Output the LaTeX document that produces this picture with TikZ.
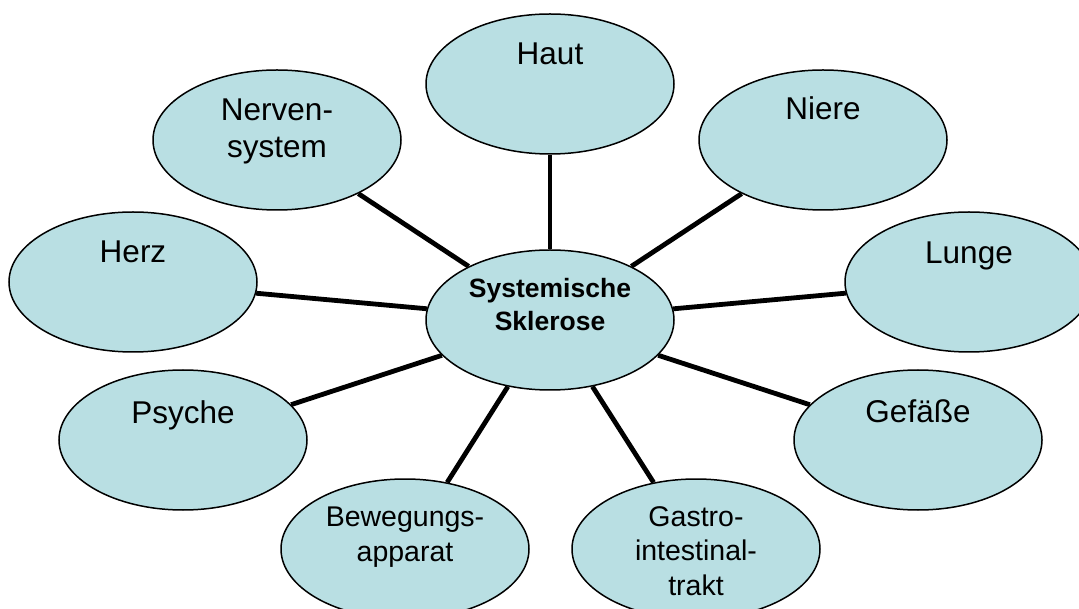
\documentclass[tikz,border=0pt]{standalone}
\usepackage{fontspec}
\setmainfont{Liberation Sans}
\usetikzlibrary{shapes.geometric}
\definecolor{fillc}{RGB}{185,223,227}
\begin{document}
\begin{tikzpicture}[x=1pt,y=-1pt,
  organ/.style={ellipse, draw=black, line width=1.5pt, fill=fillc, minimum width=248pt, minimum height=140pt, inner sep=0pt},
  conn/.style={line width=4.8pt},
  lbl/.style={font=\fontsize{31.5}{37.8}\selectfont, align=center, anchor=base, inner sep=0pt},
  lbls/.style={font=\fontsize{28.5}{34.2}\selectfont, align=center, anchor=base, inner sep=0pt},
  lblc/.style={font=\bfseries\fontsize{26.5}{33}\selectfont, align=center, anchor=base, inner sep=0pt}]
\useasboundingbox (0,0) rectangle (1079,609);
\clip (0,0) rectangle (1079,609);

\node[organ] (c) at (550,320) {};
\node[organ] (haut) at (550,84) {};
\node[organ] (nerv) at (277,140) {};
\node[organ] (niere) at (823,140) {};
\node[organ] (herz) at (133,282) {};
\node[organ] (lunge) at (969,282) {};
\node[organ] (psyche) at (183,440) {};
\node[organ] (gef) at (918,440) {};
\node[organ] (bew) at (405,549) {};
\node[organ] (gastro) at (696,549) {};

\foreach \n in {haut,nerv,niere,herz,lunge,psyche,gef,bew,gastro}
  \draw[conn] (c) -- (\n);

\node[lblc] (tc) at (550,331) {Systemische\\Sklerose};
\node[lbl] (thaut) at (550,65) {Haut};
\node[lbl] (tnerv) at (277,158) {Nerven-\\system};
\node[lbl] (tniere) at (823,120) {Niere};
\node[lbl] (therz) at (133,263) {Herz};
\node[lbl] (tlunge) at (969,264) {Lunge};
\node[lbl] (tpsyche) at (183,424) {Psyche};
\node[lbl] (tgef) at (918,423) {Gefäße};
\node[lbls] (tbew) at (405,561) {Bewegungs-\\apparat};
\node[lbls] (tgastro) at (696,595) {Gastro-\\intestinal-\\trakt};
\end{tikzpicture}
\end{document}
